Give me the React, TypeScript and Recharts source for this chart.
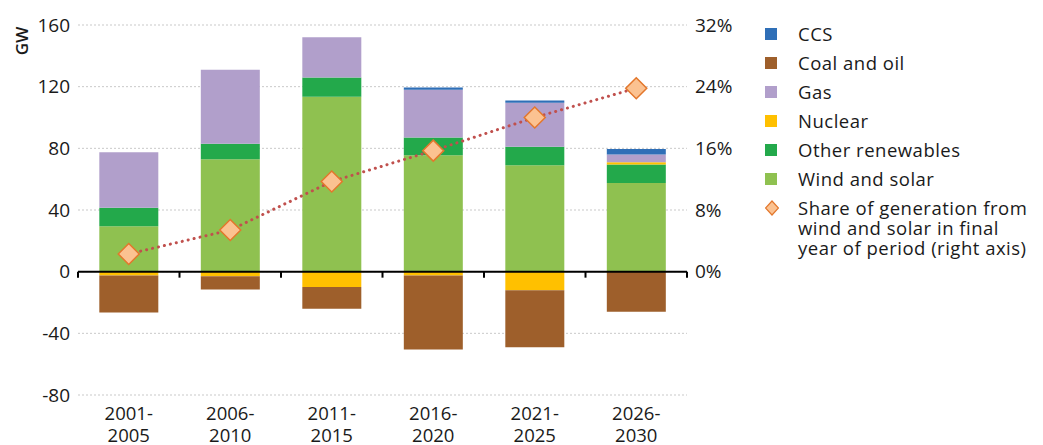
import React from 'react';
import { ComposedChart, Bar, Line, XAxis, YAxis, CartesianGrid, ReferenceLine } from 'recharts';

// periods and values (GW, share in %)
const periods = ['2001-2005', '2006-2010', '2011-2015', '2016-2020', '2021-2025', '2026-2030'];
const windSolar = [29.5, 73, 113.5, 75.5, 69, 57.5];
const otherRenewables = [12, 10, 12.5, 11.5, 12, 12];
const nuclear = [-2.5, -3, -10, -2.5, -12, 1.5];
const gas = [36, 48, 26, 31, 28.5, 5];
const ccs = [0, 0, 0, 1.5, 1.5, 3.5];
const coalOil = [-24, -8.5, -14, -48, -37, -26];
const shareWindSolar = [2.3, 5.4, 11.7, 15.7, 20, 23.8];

const gwTicks = [-80, -40, 0, 40, 80, 120, 160];
const shareTicks = [0, 8, 16, 24, 32];

const COLORS = {
  ccs: '#2f6fb7',
  coal: '#9e5f2b',
  gas: '#b19fcb',
  nuclear: '#ffc000',
  other: '#23a94b',
  wind: '#8fc150',
  line: '#c0504d',
  diamondFill: '#fbc291',
  diamondStroke: '#e3772c',
};

const legendItems = [
  { label: 'CCS', color: COLORS.ccs },
  { label: 'Coal and oil', color: COLORS.coal },
  { label: 'Gas', color: COLORS.gas },
  { label: 'Nuclear', color: COLORS.nuclear },
  { label: 'Other renewables', color: COLORS.other },
  { label: 'Wind and solar', color: COLORS.wind },
];

const data = periods.map((p, i) => ({
  period: p,
  windSolar: windSolar[i],
  otherRenewables: otherRenewables[i],
  nuclear: nuclear[i],
  gas: gas[i],
  ccs: ccs[i],
  coalOil: coalOil[i],
  share: shareWindSolar[i],
}));

const FONT = '"Open Sans", sans-serif';
const TEXT = '#1a1a1a';

const PeriodTick = (props: any) => {
  const { x, y, payload } = props;
  const [a, b] = String(payload.value).split('-');
  return (
    <text x={x} y={y} textAnchor="middle" fill={TEXT} fontSize={18.5} fontWeight={500} fontFamily={FONT}>
      <tspan x={x} dy={17}>{a}-</tspan>
      <tspan x={x} dy={22}>{b}</tspan>
    </text>
  );
};

// zero line with small tick marks at the category boundaries
const ZeroLine = (props: any) => {
  const { x1, y1, x2 } = props;
  const step = (x2 - x1) / periods.length;
  const marks = Array.from({ length: periods.length + 1 }, (_, i) => x1 + i * step);
  return (
    <g>
      <line x1={x1} y1={y1} x2={x2} y2={y1} stroke="#000" strokeWidth={2} />
      {marks.map((mx, i) => (
        <line key={i} x1={mx} y1={y1} x2={mx} y2={y1 + 6} stroke="#000" strokeWidth={2} />
      ))}
    </g>
  );
};

const Diamond = (props: any) => {
  const { cx, cy } = props;
  if (cx == null || cy == null) return null;
  const r = 10.5;
  return (
    <polygon
      points={`${cx},${cy - r} ${cx + r},${cy} ${cx},${cy + r} ${cx - r},${cy}`}
      fill={COLORS.diamondFill}
      stroke={COLORS.diamondStroke}
      strokeWidth={1.5}
    />
  );
};

const App: React.FC = () => {
  return (
    <div style={{ position: 'absolute', left: 0, top: 0, width: 1043, height: 445, background: '#fff', fontFamily: FONT }}>
      <ComposedChart
        width={1043}
        height={445}
        data={data}
        stackOffset="sign"
        barCategoryGap="21%"
        margin={{ top: 25, right: 296, bottom: 0, left: 28 }}
      >
        <CartesianGrid vertical={false} stroke="#c9c9c9" strokeDasharray="2 2" yAxisId="gw" />
        <XAxis
          dataKey="period"
          axisLine={false}
          tickLine={false}
          height={50}
          interval={0}
          tick={<PeriodTick />}
        />
        <YAxis
          yAxisId="gw"
          width={50}
          domain={[-80, 160]}
          ticks={gwTicks}
          axisLine={false}
          tickLine={false}
          tick={{ fill: TEXT, fontSize: 19, fontWeight: 500, fontFamily: FONT }}
          label={({ viewBox }: any) => (
            <text
              x={viewBox.x - 7}
              y={viewBox.y + 16}
              transform={`rotate(-90 ${viewBox.x - 7} ${viewBox.y + 16})`}
              textAnchor="middle"
              dominantBaseline="central"
              fill={TEXT}
              fontSize={17}
              fontWeight={600}
              fontFamily={FONT}
            >
              GW
            </text>
          )}
        />
        <YAxis
          yAxisId="share"
          orientation="right"
          width={60}
          domain={[-16, 32]}
          ticks={shareTicks}
          axisLine={false}
          tickLine={false}
          tickFormatter={(v: number) => `${v}%`}
          tick={{ fill: TEXT, fontSize: 19, fontWeight: 500, fontFamily: FONT, textAnchor: 'start' }}
        />
        <Bar yAxisId="gw" dataKey="windSolar" stackId="s" fill={COLORS.wind} isAnimationActive={false} />
        <Bar yAxisId="gw" dataKey="otherRenewables" stackId="s" fill={COLORS.other} isAnimationActive={false} />
        <Bar yAxisId="gw" dataKey="nuclear" stackId="s" fill={COLORS.nuclear} isAnimationActive={false} />
        <Bar yAxisId="gw" dataKey="gas" stackId="s" fill={COLORS.gas} isAnimationActive={false} />
        <Bar yAxisId="gw" dataKey="ccs" stackId="s" fill={COLORS.ccs} isAnimationActive={false} />
        <Bar yAxisId="gw" dataKey="coalOil" stackId="s" fill={COLORS.coal} isAnimationActive={false} />
        <ReferenceLine yAxisId="gw" y={0} shape={<ZeroLine />} />
        <Line
          yAxisId="share"
          dataKey="share"
          stroke={COLORS.line}
          strokeWidth={3}
          strokeDasharray="0.1 6"
          strokeLinecap="round"
          dot={<Diamond />}
          activeDot={false}
          isAnimationActive={false}
        />
      </ComposedChart>

      <div style={{ position: 'absolute', left: 765, top: 24, color: TEXT, fontSize: 18.5, fontWeight: 500, letterSpacing: 0.5, lineHeight: '20px' }}>
        {legendItems.map((it) => (
          <div key={it.label} style={{ display: 'flex', alignItems: 'center', height: 20, marginBottom: 9 }}>
            <span style={{ width: 12, height: 12, background: it.color, display: 'inline-block', marginRight: 21 }} />
            <span>{it.label}</span>
          </div>
        ))}
        <div style={{ display: 'flex', alignItems: 'flex-start' }}>
          <svg width={14} height={20} style={{ marginRight: 19, flexShrink: 0 }}>
            <polygon points="7,3 13.5,10 7,17 0.5,10" fill={COLORS.diamondFill} stroke={COLORS.diamondStroke} strokeWidth={1.2} />
          </svg>
          <span style={{ whiteSpace: 'nowrap' }}>
            Share of generation from
            <br />
            wind and solar in final
            <br />
            year of period (right axis)
          </span>
        </div>
      </div>
    </div>
  );
};

export default App;
